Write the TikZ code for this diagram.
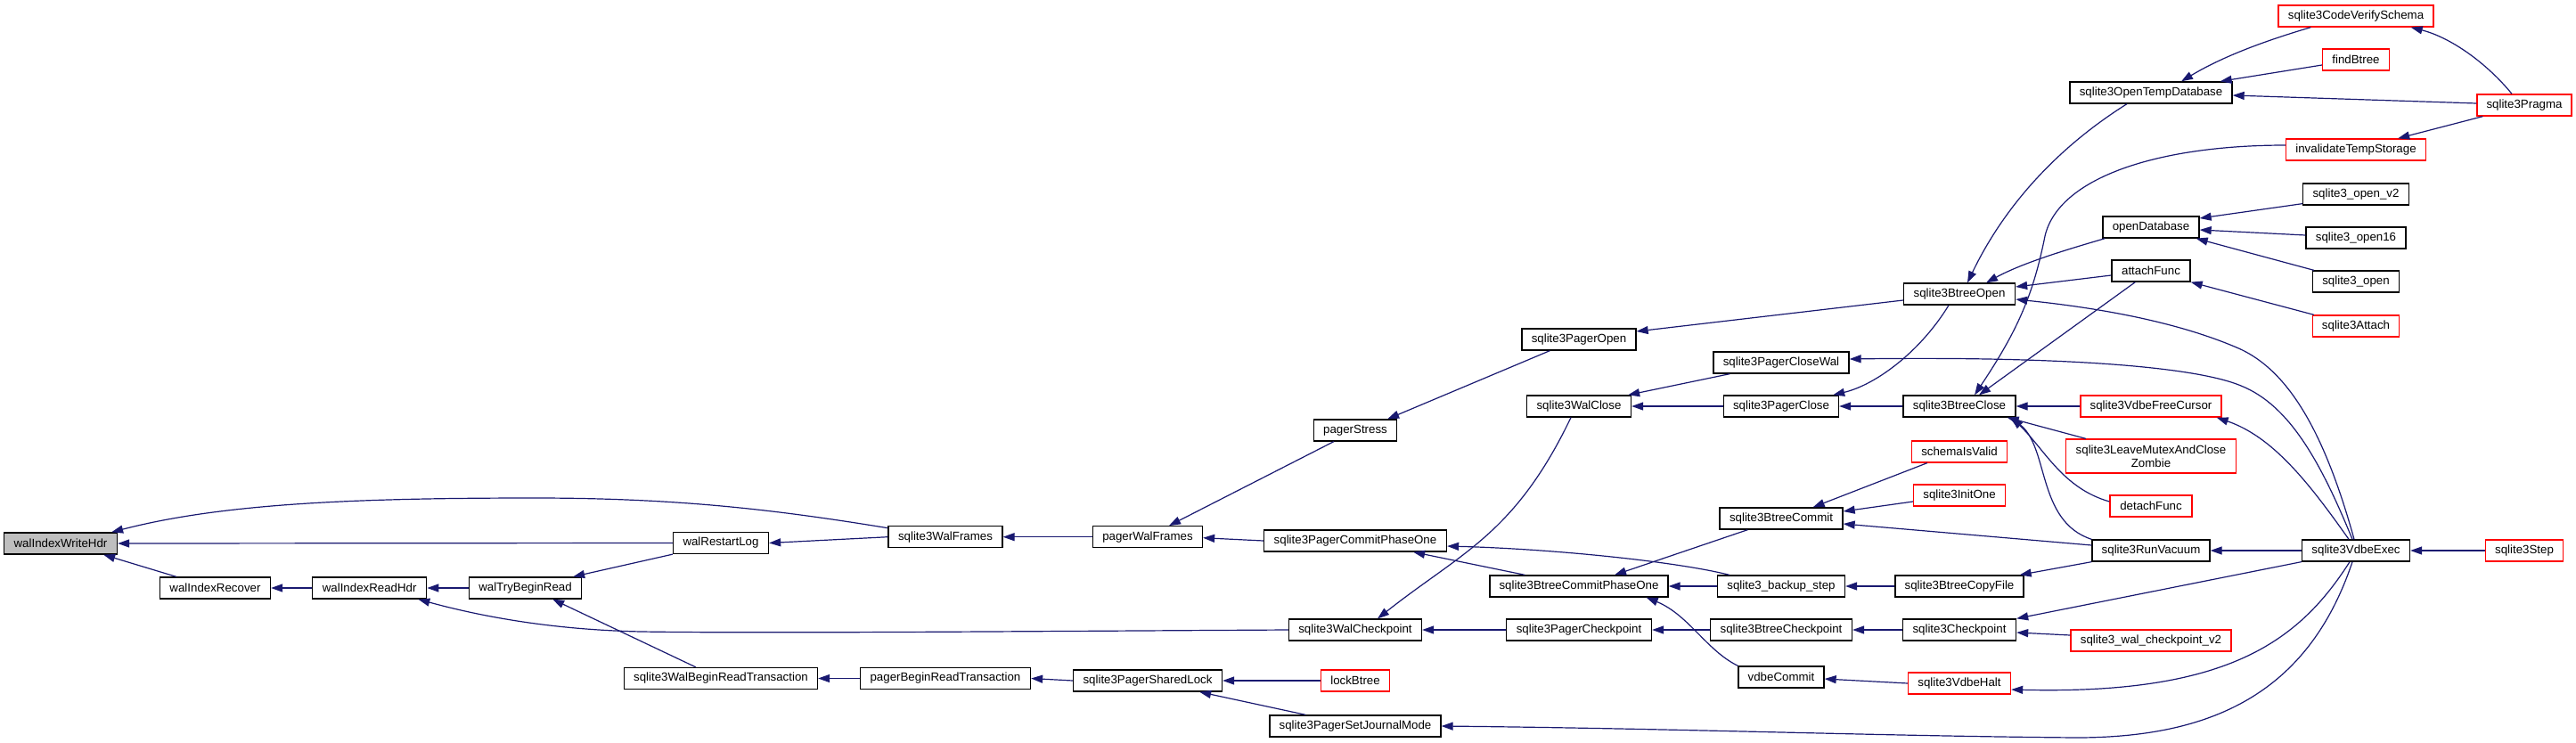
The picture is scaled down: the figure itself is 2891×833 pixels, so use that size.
\documentclass[tikz,border=0pt]{standalone}
\usepackage{fontspec}
\setmainfont{Liberation Sans}
\usetikzlibrary{arrows.meta,calc}
\definecolor{eb}{HTML}{191970}
\definecolor{g75}{HTML}{BFBFBF}
\definecolor{rd}{HTML}{FF0000}
\begin{document}
\begin{tikzpicture}[x=1pt,y=-1pt,
  fn/.style={draw=black, fill=white, line width=1.3pt, minimum height=24pt, inner xsep=2pt, inner ysep=0pt,
    font=\fontsize{13.3pt}{14.5pt}\selectfont, text=black},
  fr/.style={fn, draw=rd},
  cur/.style={fn, fill=g75},
  e/.style={draw=eb, line width=1.2pt, -{Triangle[length=13pt,width=9pt]}, fill=none}]
\useasboundingbox (0,0) rectangle (2891,833);
% nodes
\node[cur, minimum width=127pt] (N1) at (68,610) {walIndexWriteHdr};
\node[fn, minimum width=124pt] (N2) at (241.5,660) {walIndexRecover};
\node[fn, minimum width=128pt] (N3) at (414.7,660) {walIndexReadHdr};
\node[fn, minimum width=126pt] (N4) at (589.5,660) {walTryBeginRead};
\node[fn, minimum width=107pt] (N5) at (809,609.5) {walRestartLog};
\node[fn, minimum width=217pt] (N6) at (809,761.5) {sqlite3WalBeginReadTransaction};
\node[fn, minimum width=128pt] (N7) at (1061,602.7) {sqlite3WalFrames};
\node[fn, minimum width=191pt] (N8) at (1061,761.5) {pagerBeginReadTransaction};
\node[fn, minimum width=123pt] (N9) at (1288,602.7) {pagerWalFrames};
\node[fn, minimum width=167pt] (N10) at (1288,764) {sqlite3PagerSharedLock};
\node[fn, minimum width=93pt] (N11) at (1521,483) {pagerStress};
\node[fn, minimum width=205pt] (N12) at (1521,607) {sqlite3PagerCommitPhaseOne};
\node[fn, minimum width=149pt] (N13) at (1521,707) {sqlite3WalCheckpoint};
\node[fr, minimum width=77pt] (N14) at (1521,764) {lockBtree};
\node[fn, minimum width=192pt] (N15) at (1521,815) {sqlite3PagerSetJournalMode};
\node[fn, minimum width=128pt] (N16) at (1772,381) {sqlite3PagerOpen};
\node[fn, minimum width=117pt] (N17) at (1772,456) {sqlite3WalClose};
\node[fn, minimum width=200pt] (N18) at (1772,658) {sqlite3BtreeCommitPhaseOne};
\node[fn, minimum width=163pt] (N19) at (1772,707) {sqlite3PagerCheckpoint};
\node[fn, minimum width=152pt] (N20) at (1999,407) {sqlite3PagerCloseWal};
\node[fn, minimum width=129pt] (N21) at (1999,456) {sqlite3PagerClose};
\node[fn, minimum width=138pt] (N22) at (1999,582) {sqlite3BtreeCommit};
\node[fn, minimum width=143pt] (N23) at (1999,658) {sqlite3\_backup\_step};
\node[fn, minimum width=159pt] (N24) at (1999,707) {sqlite3BtreeCheckpoint};
\node[fn, minimum width=96pt] (N25) at (1999,760) {vdbeCommit};
\node[fn, minimum width=125pt] (N26) at (2199,330) {sqlite3BtreeOpen};
\node[fn, minimum width=126pt] (N27) at (2199,456) {sqlite3BtreeClose};
\node[fr, minimum width=107pt] (N28) at (2199,507) {schemaIsValid};
\node[fr, minimum width=103pt] (N29) at (2199,556) {sqlite3InitOne};
\node[fn, minimum width=144pt] (N30) at (2199,658) {sqlite3BtreeCopyFile};
\node[fn, minimum width=127pt] (N31) at (2199,707) {sqlite3Checkpoint};
\node[fr, minimum width=115pt] (N32) at (2199,767) {sqlite3VdbeHalt};
\node[fn, minimum width=182pt] (N33) at (2414,104) {sqlite3OpenTempDatabase};
\node[fn, minimum width=108pt] (N34) at (2414,255) {openDatabase};
\node[fn, minimum width=88pt] (N35) at (2414,304) {attachFunc};
\node[fr, minimum width=158pt] (N36) at (2414,456) {sqlite3VdbeFreeCursor};
\node[fr, minimum width=191pt, minimum height=38pt, align=center] (N37) at (2414,512) {sqlite3LeaveMutexAndClose\\Zombie};
\node[fr, minimum width=92pt] (N38) at (2414,568) {detachFunc};
\node[fn, minimum width=132pt] (N39) at (2414,618) {sqlite3RunVacuum};
\node[fr, minimum width=180pt] (N40) at (2414,719) {sqlite3\_wal\_checkpoint\_v2};
\node[fr, minimum width=174pt] (N41) at (2644,18) {sqlite3CodeVerifySchema};
\node[fr, minimum width=75pt] (N42) at (2644,67) {findBtree};
\node[fr, minimum width=157pt] (N43) at (2644,168) {invalidateTempStorage};
\node[fn, minimum width=119pt] (N44) at (2644,218) {sqlite3\_open\_v2};
\node[fn, minimum width=112pt] (N45) at (2644,267) {sqlite3\_open16};
\node[fn, minimum width=97pt] (N46) at (2644,316) {sqlite3\_open};
\node[fr, minimum width=97pt] (N47) at (2644,366) {sqlite3Attach};
\node[fn, minimum width=121pt] (N48) at (2644,618) {sqlite3VdbeExec};
\node[fr, minimum width=106pt] (N49) at (2833,118) {sqlite3Pragma};
\node[fr, minimum width=87pt] (N50) at (2833,618) {sqlite3Step};
% edges (caller -> callee, arrowhead at callee)
\draw[e] ($(N7.west)+(0,-10)$) .. controls (870,572) and (760,559) .. (600,559) .. controls (400,559) and (250,565) .. ($(N1.north east)+(-7,0)$);
\draw[e] (N5.west) -- (N1.east);
\draw[e] ($(N2.north west)+(19,0)$) -- ($(N1.south east)+(-16,0)$);
\draw[e] (N3.west) -- (N2.east);
\draw[e] (N4.west) -- (N3.east);
\draw[e] (N13.west) .. controls (1100,709) and (850,711) .. (720,709) .. controls (620,707) and (540,692) .. ($(N3.south east)+(-10,0)$);
\draw[e] (N5.south west) -- ($(N4.north east)+(-10,0)$);
\draw[e] ($(N6.north west)+(81,0)$) -- ($(N4.south east)+(-33,0)$);
\draw[e] (N7.west) -- (N5.east);
\draw[e] (N9.west) -- (N7.east);
\draw[e] ($(N11.south west)+(23,0)$) -- ($(N9.north)+(24,0)$);
\draw[e] (N12.west) -- ($(N9.east)+(0,1)$);
\draw[e] ($(N16.south west)+(32,0)$) -- ($(N11.north east)+(-11,0)$);
\draw[e] ($(N26.west)+(0,7)$) -- ($(N16.east)+(0,-9)$);
\draw[e] ($(N18.north west)+(40,0)$) -- ($(N12.south east)+(-38,0)$);
\draw[e] ($(N23.north west)+(14,0)$) .. controls (1880,630) and (1740,616) .. ($(N12.east)+(0,6)$);
\draw[e] ($(N17.south)+(-9,0)$) .. controls (1700,600) and (1640,620) .. ($(N13.north)+(25,0)$);
\draw[e] (N19.west) -- (N13.east);
\draw[e] (N8.west) -- (N6.east);
\draw[e] (N10.west) -- (N8.east);
\draw[e] (N14.west) -- (N10.east);
\draw[e] ($(N15.north west)+(41,0)$) -- ($(N10.south east)+(-26,0)$);
\draw[e] ($(N20.south west)+(19,0)$) -- ($(N17.north east)+(-4,0)$);
\draw[e] (N21.west) -- (N17.east);
\draw[e] (N27.west) -- (N21.east);
\draw[e] ($(N26.south)+(-12,0)$) .. controls (2155,395) and (2105,432) .. ($(N21.north east)+(-7,0)$);
\draw[e] ($(N48.north)+(-4,0)$) .. controls (2605,520) and (2570,455) .. (2515,433) .. controls (2460,410) and (2300,400) .. ($(N20.east)+(0,-4)$);
\draw[e] ($(N33.south)+(-27,0)$) .. controls (2310,165) and (2250,230) .. ($(N26.north)+(9,0)$);
\draw[e] ($(N34.south west)+(3,0)$) .. controls (2320,280) and (2270,295) .. ($(N26.north)+(30,0)$);
\draw[e] ($(N35.west)+(0,5)$) -- ($(N26.east)+(0,-8)$);
\draw[e] ($(N48.north)+(-2,0)$) .. controls (2610,490) and (2570,415) .. (2510,390) .. controls (2440,360) and (2350,345) .. ($(N26.east)+(0,6)$);
\draw[e] ($(N41.south west)+(37,0)$) .. controls (2555,42) and (2500,60) .. ($(N33.north)+(34,0)$);
\draw[e] ($(N42.west)+(0,6)$) -- ($(N33.north east)+(-14,0)$);
\draw[e] ($(N49.west)+(0,-2)$) -- ($(N33.east)+(0,3)$);
\draw[e] ($(N49.north)+(-14,0)$) .. controls (2790,70) and (2750,42) .. ($(N41.south east)+(-26,0)$);
\draw[e] ($(N49.south west)+(7,0)$) -- ($(N43.north east)+(-32,0)$);
\draw[e] ($(N43.west)+(0,-5)$) .. controls (2420,163) and (2310,200) .. (2295,265) .. controls (2282,330) and (2265,370) .. ($(N27.north)+(17,0)$);
\draw[e] ($(N44.south west)+(0,-2)$) -- ($(N34.east)+(0,-10)$);
\draw[e] ($(N45.west)+(0,-3)$) -- ($(N34.east)+(0,3)$);
\draw[e] ($(N46.north west)+(2,0)$) -- ($(N34.south east)+(-4,0)$);
\draw[e] ($(N47.north west)+(2,0)$) -- (N35.south east);
\draw[e] ($(N35.south west)+(27,0)$) -- ($(N27.north)+(22,0)$);
\draw[e] (N36.west) -- (N27.east);
\draw[e] ($(N37.north west)+(23,0)$) -- ($(N27.south east)+(-10,0)$);
\draw[e] ($(N38.west)+(0,-5)$) .. controls (2315,548) and (2295,505) .. ($(N27.south east)+(-5,0)$);
\draw[e] (N39.north west) .. controls (2285,585) and (2300,500) .. ($(N27.south east)+(-7,0)$);
\draw[e] ($(N48.north)+(-8,0)$) .. controls (2590,540) and (2550,490) .. ($(N36.south east)+(-6,0)$);
\draw[e] (N48.west) -- (N39.east);
\draw[e] (N50.west) -- (N48.east);
\draw[e] ($(N28.south west)+(18,0)$) -- ($(N22.north east)+(-34,0)$);
\draw[e] ($(N29.west)+(0,7)$) -- ($(N22.east)+(0,-8)$);
\draw[e] ($(N39.west)+(0,-6)$) -- ($(N22.east)+(0,6)$);
\draw[e] ($(N22.south west)+(32,0)$) -- ($(N18.north)+(40,0)$);
\draw[e] (N23.west) -- (N18.east);
\draw[e] (N25.north west) .. controls (1915,730) and (1895,690) .. ($(N18.south east)+(-25,0)$);
\draw[e] (N30.west) -- (N23.east);
\draw[e] (N39.south west) -- ($(N30.north east)+(-5,0)$);
\draw[e] (N24.west) -- (N19.east);
\draw[e] (N31.west) -- (N24.east);
\draw[e] (N48.south west) -- (N31.north east);
\draw[e] ($(N40.west)+(0,-6)$) -- ($(N31.east)+(0,3)$);
\draw[e] (N32.west) -- ($(N25.east)+(0,2)$);
\draw[e] ($(N48.south)+(-7,0)$) .. controls (2580,720) and (2500,780) .. ($(N32.east)+(0,7)$);
\draw[e] ($(N48.south)+(-4,0)$) .. controls (2590,780) and (2480,828) .. (2330,828) .. controls (2100,826) and (1900,818) .. (N15.east);
\end{tikzpicture}
\end{document}
